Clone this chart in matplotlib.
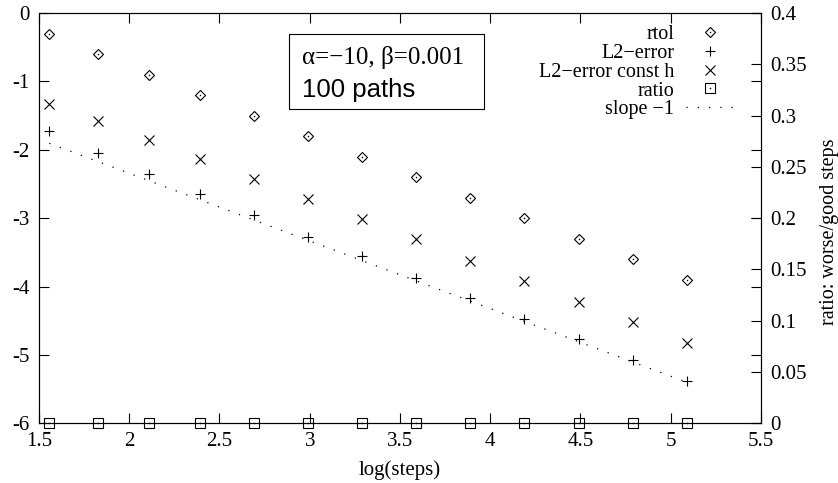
import numpy as np
import matplotlib
matplotlib.use("Agg")
import matplotlib.pyplot as plt
from matplotlib.ticker import FixedLocator, FormatStrFormatter
from matplotlib.patches import Rectangle
from matplotlib.legend_handler import HandlerTuple

# data
log_steps = [1.557, 1.825, 2.109, 2.394, 2.69, 2.99, 3.29, 3.59, 3.89, 4.19, 4.49, 4.79, 5.09]
rtol = [-0.3, -0.6, -0.9, -1.2, -1.5, -1.8, -2.1, -2.4, -2.7, -3.0, -3.3, -3.6, -3.9]
l2_error = [-1.725, -2.047, -2.35, -2.65, -2.95, -3.27, -3.56, -3.87, -4.17, -4.48, -4.77, -5.07, -5.38]
l2_error_const_h = [-1.33, -1.575, -1.857, -2.135, -2.43, -2.72, -3.01, -3.31, -3.62, -3.92, -4.22, -4.52, -4.83]
ratio = [0, 0, 0, 0, 0, 0, 0, 0, 0, 0, 0, 0, 0]
slope_x = [1.557, 5.09]
slope_y = [-1.905, -5.40]

x_ticks = [1.5, 2, 2.5, 3, 3.5, 4, 4.5, 5, 5.5]
y_ticks = [-6, -5, -4, -3, -2, -1, 0]
y2_ticks = [0, 0.05, 0.1, 0.15, 0.2, 0.25, 0.3, 0.35, 0.4]

plt.rcParams['font.family'] = ['Liberation Serif', 'DejaVu Serif']
plt.rcParams['axes.unicode_minus'] = False
plt.rcParams['axes.linewidth'] = 0.8

fig = plt.figure(figsize=(8.38, 4.83), dpi=100)
ax = fig.add_axes([0.0465, 0.1236, 0.8615, 0.8494])
ax2 = ax.twinx()

mew = 0.8
h_rtol, = ax.plot(log_steps, rtol, linestyle='none', marker='D', ms=5.4,
                  mfc='none', mec='black', mew=mew, label='rtol')
d_rtol, = ax.plot(log_steps, rtol, linestyle='none', marker='o', ms=1.1,
                  mfc='black', mec='none')
h_l2, = ax.plot(log_steps, l2_error, linestyle='none', marker='+', ms=7,
                mec='black', mew=mew, label='L2\u2212error')
h_l2h, = ax.plot(log_steps, l2_error_const_h, linestyle='none', marker='x', ms=6.5,
                 mec='black', mew=mew, label='L2\u2212error const h')
h_slope, = ax.plot(slope_x, slope_y, color='black', lw=0.9,
                   linestyle=(0, (1, 8)), label='slope \u22121')

h_ratio, = ax2.plot(log_steps, ratio, linestyle='none', marker='s', ms=7.8,
                    mfc='none', mec='black', mew=mew, clip_on=False, label='ratio')
d_ratio, = ax2.plot(log_steps, ratio, linestyle='none', marker='o', ms=1.1,
                    mfc='black', mec='none', clip_on=False)

ax.set_xlim(1.5, 5.5)
ax.set_ylim(-6, 0)
ax2.set_ylim(0, 0.4)

ax.xaxis.set_major_locator(FixedLocator(x_ticks))
ax.yaxis.set_major_locator(FixedLocator(y_ticks))
ax2.yaxis.set_major_locator(FixedLocator(y2_ticks))
ax.xaxis.set_major_formatter(FormatStrFormatter('%g'))
ax.yaxis.set_major_formatter(FormatStrFormatter('%g'))
ax2.yaxis.set_major_formatter(FormatStrFormatter('%g'))

ax.tick_params(axis='both', which='major', direction='in', length=7.2, width=0.8,
               labelsize=15, top=True, right=True, labelright=False)
ax.tick_params(axis='x', pad=6)
ax.tick_params(axis='y', pad=7)
ax2.tick_params(axis='y', direction='in', length=7.2, width=0.8, labelsize=15, pad=7)

ax.set_xlabel('log(steps)', fontsize=15)
ax.xaxis.set_label_coords(0.5, -0.114)
ax.xaxis.label.set_va('center')
ax2.set_ylabel('ratio: worse/good steps', fontsize=14.5)
ax2.yaxis.set_label_coords(1.095, 0.466)
ax2.yaxis.label.set_va('center')

# parameter box
ax.add_patch(Rectangle((0.346, 0.766), 0.27, 0.183, transform=ax.transAxes,
                       fill=False, edgecolor='black', lw=0.8))
ax.text(0.364, 0.892, '\u03b1=\u221210, \u03b2=0.001', transform=ax.transAxes,
        fontsize=18, va='center', ha='left')
ax.text(0.364, 0.813, '100 paths', transform=ax.transAxes,
        fontsize=18.5, va='center', ha='left', family=['Liberation Sans', 'DejaVu Sans'])

leg = ax.legend([(h_rtol, d_rtol), h_l2, h_l2h, (h_ratio, d_ratio), h_slope],
                ['rtol', 'L2\u2212error', 'L2\u2212error const h', 'ratio', 'slope \u22121'],
                handler_map={tuple: HandlerTuple(ndivide=1)},
                loc='upper right', bbox_to_anchor=(0.961, 0.97), frameon=False,
                markerfirst=False, fontsize=14.5, handlelength=2.3, handletextpad=0.6,
                labelspacing=-0.02, borderpad=0, borderaxespad=0)

fig.savefig('out.png', dpi=100)
